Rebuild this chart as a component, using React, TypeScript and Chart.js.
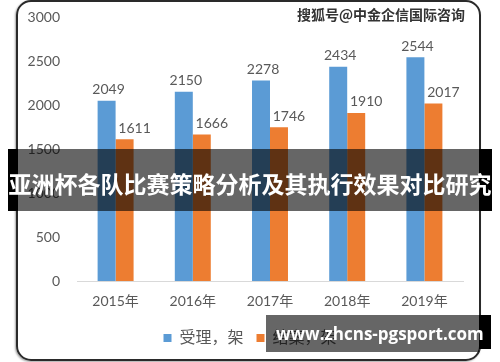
import React, { useEffect, useRef } from "react";
import { Chart, registerables } from "chart.js";

Chart.register(...registerables);

const categories = ["2015年", "2016年", "2017年", "2018年", "2019年"];
const seriesNames = ["受理，架", "结案，架"];
const acceptedValues = [2049, 2150, 2278, 2434, 2544];
const closedValues = [1611, 1666, 1746, 1910, 2017];
const yTicks = [0, 500, 1000, 1500, 2000, 2500, 3000];
const titleText = "亚洲杯各队比赛策略分析及其执行效果对比研究";
const watermarkText = "搜狐号@中金企信国际咨询";
const siteText = "www.zhcns-pgsport.com";

const labelPlugin = {
  id: "barValueLabels",
  afterDatasetsDraw(chart: any) {
    const ctx = chart.ctx;
    chart.data.datasets.forEach((ds: any, i: number) => {
      const meta = chart.getDatasetMeta(i);
      meta.data.forEach((bar: any, j: number) => {
        ctx.save();
        ctx.font = "14px Lato";
        ctx.fillStyle = "#595959";
        ctx.textAlign = "center";
        ctx.textBaseline = "middle";
        ctx.fillText(String(ds.data[j]), bar.x + (i === 1 ? 10 : 2), bar.y - 11);
        ctx.restore();
      });
    });
  },
};

export default function App() {
  const canvasRef = useRef<HTMLCanvasElement | null>(null);

  useEffect(() => {
    if (!canvasRef.current) return;
    const chart = new Chart(canvasRef.current, {
      type: "bar",
      data: {
        labels: categories,
        datasets: [
          {
            label: seriesNames[0],
            data: acceptedValues,
            backgroundColor: "#5b9bd5",
            barPercentage: 1,
            categoryPercentage: 0.466,
          },
          {
            label: seriesNames[1],
            data: closedValues,
            backgroundColor: "#ed7d31",
            barPercentage: 1,
            categoryPercentage: 0.466,
          },
        ],
      },
      options: {
        responsive: false,
        animation: false,
        devicePixelRatio: 1,
        layout: { padding: { left: 0, right: 0, top: 17, bottom: 6 } },
        plugins: {
          tooltip: { enabled: false },
          legend: {
            position: "bottom",
            labels: {
              boxWidth: 8,
              boxHeight: 8,
              padding: 13,
              color: "#595959",
              font: { size: 16, family: "Lato, 'Noto Sans CJK SC'" },
            },
          },
        },
        scales: {
          x: {
            grid: { display: false, drawTicks: false },
            border: { display: true, color: "#d9d9d9", width: 1 },
            ticks: {
              color: "#595959",
              padding: 12,
              font: { size: 14, family: "Lato, 'Noto Sans CJK SC'" },
            },
            afterFit: (scale: any) => {
              scale.height = 36;
            },
          },
          y: {
            min: 0,
            max: 3000,
            grid: { display: false, drawTicks: false },
            border: { display: false },
            afterBuildTicks: (scale: any) => {
              scale.ticks = yTicks.map((v) => ({ value: v }));
            },
            ticks: {
              color: "#595959",
              padding: 17,
              font: { size: 14, family: "Lato" },
              callback: (v: any) => String(v),
            },
            afterFit: (scale: any) => {
              scale.width = 77;
              scale.paddingTop = 0;
              scale.paddingBottom = 0;
            },
          },
          yRight: {
            type: "linear",
            position: "right",
            display: true,
            grid: { display: false, drawTicks: false },
            border: { display: false },
            ticks: { display: false },
            afterFit: (scale: any) => {
              scale.width = 37;
              scale.paddingTop = 0;
              scale.paddingBottom = 0;
            },
          },
        },
      },
      plugins: [labelPlugin],
    });
    return () => chart.destroy();
  }, []);

  return (
    <div
      style={{
        position: "fixed",
        left: 0,
        top: 0,
        width: 500,
        height: 362,
        background: "#ffffff",
        overflow: "hidden",
      }}
    >
      <div
        style={{
          position: "absolute",
          left: 16,
          top: 0,
          width: 465,
          height: 361,
          border: "2px solid #2a2a2a",
          borderRadius: 15,
          boxSizing: "border-box",
          boxShadow: "-1px 1px 2px rgba(0,0,0,0.35)",
        }}
      />
      <canvas
        ref={canvasRef}
        width={500}
        height={362}
        style={{ position: "absolute", left: 0, top: 0, width: 500, height: 362 }}
      />
      <div
        style={{
          position: "absolute",
          left: 297,
          top: 5,
          fontFamily: "'Noto Sans CJK SC'",
          fontWeight: 700,
          fontSize: 14,
          lineHeight: "18px",
          color: "#333333",
          whiteSpace: "nowrap",
        }}
      >
        {watermarkText}
      </div>
      {/* title band */}
      <div style={{ position: "absolute", left: 8, top: 149, width: 10, height: 62, background: "#000" }} />
      <div style={{ position: "absolute", left: 18, top: 149, width: 461, height: 62, background: "rgba(0,0,0,0.6)" }} />
      <div style={{ position: "absolute", left: 479, top: 149, width: 13, height: 62, background: "#000" }} />
      <div
        style={{
          position: "absolute",
          left: 0,
          top: 152,
          width: 500,
          height: 62,
          lineHeight: "62px",
          textAlign: "center",
          color: "#ffffff",
          fontFamily: "'Noto Sans CJK SC'",
          fontWeight: 700,
          fontSize: 23,
          whiteSpace: "nowrap",
        }}
      >
        {titleText}
      </div>
      {/* site banner */}
      <div style={{ position: "absolute", left: 266, top: 315, width: 213, height: 37, background: "rgba(0,0,0,0.6)" }} />
      <div style={{ position: "absolute", left: 479, top: 315, width: 12, height: 34, background: "#000" }} />
      <div
        style={{
          position: "absolute",
          left: 276,
          top: 315,
          height: 37,
          lineHeight: "37px",
          color: "#ffffff",
          fontFamily: "'Open Sans', sans-serif",
          fontWeight: 700,
          fontSize: 17,
          whiteSpace: "nowrap",
        }}
      >
        {siteText}
      </div>
    </div>
  );
}
